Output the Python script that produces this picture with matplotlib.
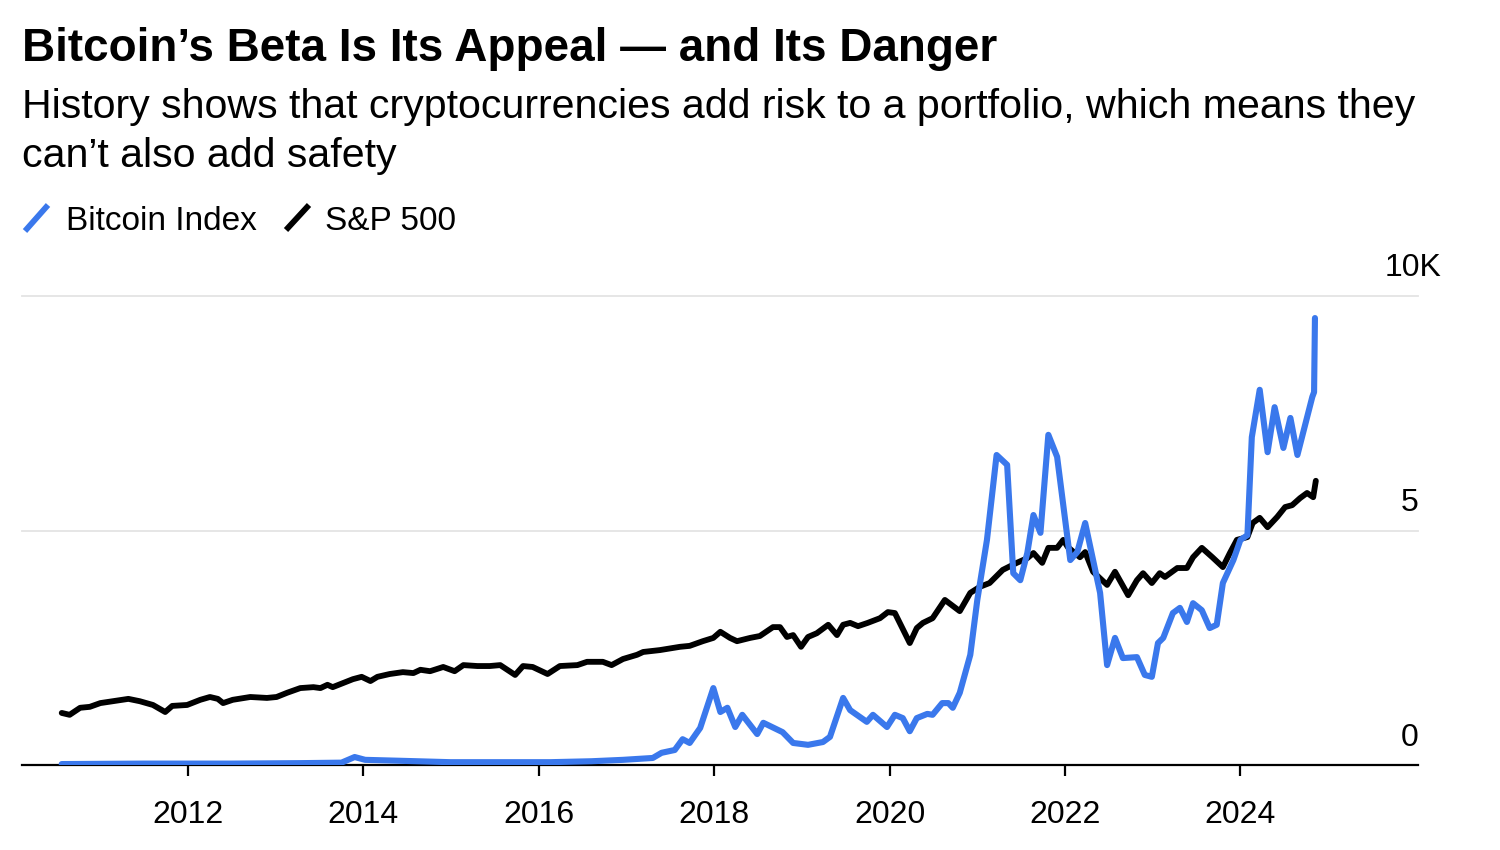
import matplotlib
matplotlib.use("Agg")
import matplotlib.pyplot as plt
from matplotlib.lines import Line2D

# data (x = decimal year, y = index level, thousands)
btc_x = [2010.56, 2011.5, 2012.5, 2013.3, 2013.75, 2013.90, 2014.02, 2014.42, 2014.99, 2016.13,
         2016.6, 2016.96, 2017.30, 2017.40, 2017.55, 2017.64, 2017.72, 2017.84, 2017.99, 2018.07,
         2018.15, 2018.24, 2018.32, 2018.49, 2018.56, 2018.78, 2018.90, 2019.07, 2019.24, 2019.32,
         2019.47, 2019.55, 2019.74, 2019.81, 2019.97, 2020.06, 2020.15, 2020.23, 2020.31, 2020.43,
         2020.49, 2020.60, 2020.67, 2020.72, 2020.80, 2020.92, 2021.00, 2021.11, 2021.22, 2021.34,
         2021.41, 2021.49, 2021.57, 2021.64, 2021.72, 2021.81, 2021.91, 2022.06, 2022.14, 2022.23,
         2022.32, 2022.40, 2022.48, 2022.57, 2022.66, 2022.82, 2022.91, 2022.99, 2023.06, 2023.12,
         2023.23, 2023.31, 2023.39, 2023.46, 2023.56, 2023.65, 2023.73, 2023.80, 2023.92, 2024.00,
         2024.08, 2024.13, 2024.22, 2024.31, 2024.39, 2024.49, 2024.57, 2024.65, 2024.82, 2024.84,
         2024.85]
btc_y = [0.02, 0.03, 0.03, 0.04, 0.05, 0.17, 0.11, 0.09, 0.06, 0.06,
         0.08, 0.11, 0.15, 0.26, 0.32, 0.55, 0.47, 0.79, 1.64, 1.13,
         1.22, 0.81, 1.07, 0.66, 0.90, 0.70, 0.47, 0.43, 0.49, 0.60,
         1.43, 1.17, 0.92, 1.07, 0.81, 1.07, 1.00, 0.72, 1.00, 1.09,
         1.07, 1.32, 1.32, 1.22, 1.54, 2.35, 3.52, 4.80, 6.61, 6.40,
         4.09, 3.94, 4.52, 5.33, 4.95, 7.04, 6.57, 4.37, 4.54, 5.16,
         4.37, 3.67, 2.13, 2.71, 2.28, 2.30, 1.92, 1.88, 2.60, 2.71,
         3.24, 3.35, 3.05, 3.45, 3.30, 2.92, 2.99, 3.88, 4.37, 4.80,
         4.90, 6.99, 8.00, 6.67, 7.63, 6.76, 7.40, 6.61, 7.85, 7.95,
         9.53]

spx_x = [2010.56, 2010.65, 2010.77, 2010.88, 2011.00, 2011.14, 2011.32, 2011.45, 2011.60, 2011.74,
         2011.82, 2011.99, 2012.14, 2012.25, 2012.34, 2012.40, 2012.51, 2012.71, 2012.90, 2013.01,
         2013.13, 2013.28, 2013.43, 2013.51, 2013.59, 2013.65, 2013.77, 2013.88, 2013.98, 2014.08,
         2014.16, 2014.30, 2014.45, 2014.57, 2014.65, 2014.76, 2014.91, 2015.04, 2015.14, 2015.30,
         2015.44, 2015.56, 2015.73, 2015.82, 2015.93, 2016.10, 2016.24, 2016.44, 2016.55, 2016.73,
         2016.83, 2016.96, 2017.12, 2017.19, 2017.38, 2017.61, 2017.72, 2017.87, 2017.99, 2018.07,
         2018.18, 2018.26, 2018.41, 2018.52, 2018.67, 2018.75, 2018.83, 2018.90, 2018.99, 2019.07,
         2019.17, 2019.30, 2019.40, 2019.47, 2019.55, 2019.64, 2019.75, 2019.89, 2019.98, 2020.06,
         2020.23, 2020.31, 2020.38, 2020.49, 2020.63, 2020.80, 2020.92, 2021.03, 2021.14, 2021.29,
         2021.45, 2021.57, 2021.64, 2021.74, 2021.81, 2021.91, 2021.98, 2022.03, 2022.17, 2022.23,
         2022.32, 2022.48, 2022.57, 2022.72, 2022.82, 2022.89, 2022.99, 2023.08, 2023.14, 2023.28,
         2023.39, 2023.46, 2023.56, 2023.68, 2023.80, 2023.88, 2023.96, 2024.08, 2024.14, 2024.22,
         2024.31, 2024.42, 2024.51, 2024.59, 2024.68, 2024.76, 2024.83, 2024.86]
spx_y = [1.11, 1.07, 1.22, 1.24, 1.32, 1.36, 1.41, 1.36, 1.28, 1.13,
         1.26, 1.28, 1.39, 1.45, 1.41, 1.32, 1.39, 1.45, 1.43, 1.45,
         1.54, 1.64, 1.66, 1.64, 1.71, 1.66, 1.75, 1.83, 1.88, 1.79,
         1.88, 1.94, 1.98, 1.96, 2.03, 2.00, 2.09, 2.00, 2.13, 2.11,
         2.11, 2.13, 1.92, 2.11, 2.09, 1.94, 2.11, 2.13, 2.20, 2.20,
         2.13, 2.26, 2.35, 2.41, 2.45, 2.52, 2.54, 2.64, 2.71, 2.84,
         2.71, 2.64, 2.71, 2.75, 2.94, 2.94, 2.73, 2.77, 2.52, 2.73,
         2.81, 2.99, 2.77, 2.99, 3.03, 2.96, 3.03, 3.13, 3.26, 3.24,
         2.60, 2.92, 3.03, 3.13, 3.52, 3.28, 3.67, 3.80, 3.88, 4.16,
         4.31, 4.41, 4.52, 4.31, 4.63, 4.63, 4.80, 4.65, 4.43, 4.54,
         4.12, 3.84, 4.12, 3.62, 3.94, 4.09, 3.88, 4.09, 4.01, 4.20,
         4.20, 4.43, 4.63, 4.43, 4.22, 4.52, 4.80, 4.86, 5.16, 5.27,
         5.07, 5.29, 5.50, 5.54, 5.69, 5.80, 5.71, 6.06]

year_ticks = [2012, 2014, 2016, 2018, 2020, 2022, 2024]
y_ticks = [0, 5, 10]
y_labels = ["0", "5", "10K"]

blue = "#3a78ec"
font = "Liberation Sans"
plt.rcParams['font.family'] = [font, 'DejaVu Sans']

W, H = 1500, 850
fig = plt.figure(figsize=(15, 8.5), dpi=100)
ax = fig.add_axes([22 / W, 1 - 765 / H, (1418 - 22) / W, (765 - 296) / H])

for y in y_ticks[1:]:
    ax.axhline(y, color="#e4e4e4", lw=1.3, zorder=0, clip_on=False)
ax.plot(spx_x, spx_y, color="black", lw=4.2, solid_joinstyle="round", solid_capstyle="round", zorder=3)
ax.plot(btc_x, btc_y, color=blue, lw=4.4, solid_joinstyle="round", solid_capstyle="round", zorder=4)

ax.set_xlim(2010.107, 2026.025)
ax.set_ylim(0, 10)
for s in ["top", "right", "left"]:
    ax.spines[s].set_visible(False)
ax.spines["bottom"].set_linewidth(1.6)
ax.spines["bottom"].set_zorder(2)
ax.set_yticks([])
ax.set_xticks(year_ticks)
ax.set_xticklabels([str(y) for y in year_ticks], fontsize=23)
ax.tick_params(axis="x", length=8, width=1.6, pad=17, color="black")

# y labels sit above the gridlines, right aligned at the plot edge
for y, lab in zip(y_ticks, y_labels):
    off = 17 if lab == "10K" else 0
    ax.annotate(lab, xy=(1.0, y), xycoords=("axes fraction", "data"),
                xytext=(off, 9), textcoords="offset points",
                ha="right", va="bottom", fontsize=23, annotation_clip=False)

fig.text(22 / W, 1 - 61 / H, "Bitcoin\u2019s Beta Is Its Appeal \u2014 and Its Danger",
         fontsize=33, fontweight="bold", va="baseline", ha="left")
fig.text(22 / W, 1 - 118 / H, "History shows that cryptocurrencies add risk to a portfolio, which means they",
         fontsize=29.6, va="baseline", ha="left")
fig.text(22 / W, 1 - 167 / H, "can\u2019t also add safety",
         fontsize=29.6, va="baseline", ha="left")

# legend
fig.add_artist(Line2D([25 / W, 48 / W], [1 - 231 / H, 1 - 205 / H], color=blue, lw=4.2,
                      solid_capstyle="butt", transform=fig.transFigure))
fig.text(66 / W, 1 - 230 / H, "Bitcoin Index", fontsize=24, va="baseline", ha="left")
fig.add_artist(Line2D([286 / W, 309 / W], [1 - 230 / H, 1 - 205 / H], color="black", lw=4.2,
                      solid_capstyle="butt", transform=fig.transFigure))
fig.text(325 / W, 1 - 230 / H, "S&P 500", fontsize=24, va="baseline", ha="left")

fig.savefig("out.png", dpi=100)
